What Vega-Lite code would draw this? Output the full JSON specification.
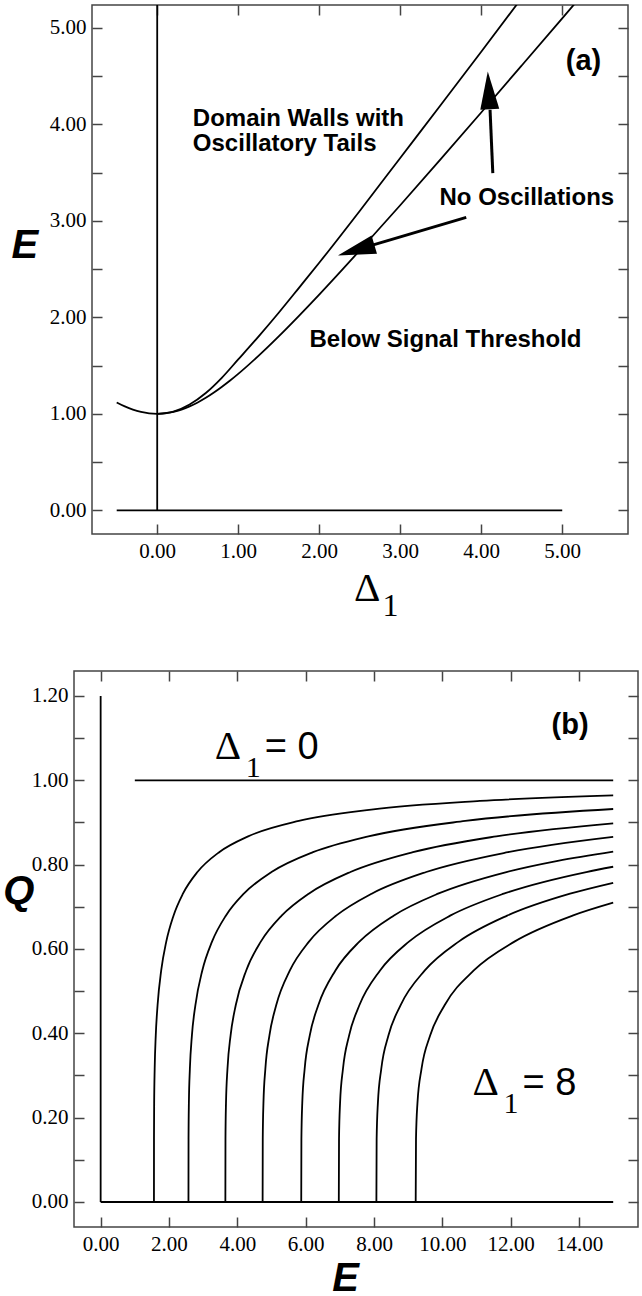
{
  "$schema": "https://vega.github.io/schema/vega-lite/v6.json",
  "padding": {"left": 0, "top": 3, "right": 0, "bottom": 0},
  "background": "white",
  "config": {
    "view": {"stroke": null},
    "axis": {
      "grid": false,
      "domain": false,
      "ticks": true,
      "tickSize": -10,
      "tickColor": "#444",
      "tickWidth": 1.5,
      "labelFont": "Liberation Serif",
      "labelFontSize": 21,
      "labelColor": "#000",
      "labelPadding": 16
    }
  },
  "datasets": {
    "aCurves": [
      {"c": "lower", "d": -0.5, "e": 1.118}, {"c": "lower", "d": -0.4, "e": 1.077},
      {"c": "lower", "d": -0.3, "e": 1.044}, {"c": "lower", "d": -0.2, "e": 1.020},
      {"c": "lower", "d": -0.1, "e": 1.005}, {"c": "lower", "d": 0, "e": 1.0},
      {"c": "lower", "d": 0.1, "e": 1.005}, {"c": "lower", "d": 0.2, "e": 1.020},
      {"c": "lower", "d": 0.3, "e": 1.044}, {"c": "lower", "d": 0.4, "e": 1.077},
      {"c": "lower", "d": 0.5, "e": 1.118}, {"c": "lower", "d": 0.6, "e": 1.166},
      {"c": "lower", "d": 0.7, "e": 1.221}, {"c": "lower", "d": 0.8, "e": 1.281},
      {"c": "lower", "d": 0.9, "e": 1.345}, {"c": "lower", "d": 1.0, "e": 1.414},
      {"c": "lower", "d": 1.25, "e": 1.601}, {"c": "lower", "d": 1.5, "e": 1.803},
      {"c": "lower", "d": 1.75, "e": 2.016}, {"c": "lower", "d": 2.0, "e": 2.236},
      {"c": "lower", "d": 2.5, "e": 2.693}, {"c": "lower", "d": 3.0, "e": 3.162},
      {"c": "lower", "d": 3.5, "e": 3.640}, {"c": "lower", "d": 4.0, "e": 4.123},
      {"c": "lower", "d": 4.5, "e": 4.610}, {"c": "lower", "d": 5.0, "e": 5.099},
      {"c": "lower", "d": 5.5, "e": 5.590},
      {"c": "upper", "d": 0, "e": 1.0}, {"c": "upper", "d": 0.2, "e": 1.024},
      {"c": "upper", "d": 0.4, "e": 1.097}, {"c": "upper", "d": 0.6, "e": 1.216},
      {"c": "upper", "d": 0.8, "e": 1.376}, {"c": "upper", "d": 1.0, "e": 1.564},
      {"c": "upper", "d": 1.25, "e": 1.801}, {"c": "upper", "d": 1.5, "e": 2.048},
      {"c": "upper", "d": 1.75, "e": 2.306}, {"c": "upper", "d": 2.0, "e": 2.566},
      {"c": "upper", "d": 2.5, "e": 3.103}, {"c": "upper", "d": 3.0, "e": 3.652},
      {"c": "upper", "d": 3.5, "e": 4.200}, {"c": "upper", "d": 4.0, "e": 4.753},
      {"c": "upper", "d": 4.5, "e": 5.310}, {"c": "upper", "d": 5.0, "e": 5.869}
    ],
    "aRules": [
      {"d": -0.5, "d2": 5.0, "e": 0, "e2": 0},
      {"d": 0, "d2": 0, "e": 0, "e2": 5.237}
    ],
    "aArrows": [
      {"name": "up", "d": 4.143, "e": 3.495, "d2": 4.109, "e2": 4.152, "hd": 4.081, "he": 4.549},
      {"name": "left", "d": 3.815, "e": 3.036, "d2": 2.668, "e2": 2.751, "hd": 2.23, "he": 2.642}
    ],
    "aNotes": [
      {"t": "Domain Walls with", "d": 0.44, "e": 3.98},
      {"t": "Oscillatory Tails", "d": 0.44, "e": 3.727},
      {"t": "No Oscillations", "d": 3.485, "e": 3.168},
      {"t": "Below Signal Threshold", "d": 1.88, "e": 1.69}
    ],
    "bCurves": [
      {"k": 1, "E": 1.56, "Q": 0}, {"k": 1, "E": 1.561, "Q": 0.1495}, {"k": 1, "E": 1.566, "Q": 0.2339},
      {"k": 1, "E": 1.581, "Q": 0.3154}, {"k": 1, "E": 1.613, "Q": 0.3952}, {"k": 1, "E": 1.666, "Q": 0.4671},
      {"k": 1, "E": 1.772, "Q": 0.5491}, {"k": 1, "E": 1.920, "Q": 0.6174}, {"k": 1, "E": 2.132, "Q": 0.6790},
      {"k": 1, "E": 2.408, "Q": 0.7311}, {"k": 1, "E": 2.832, "Q": 0.7825}, {"k": 1, "E": 3.468, "Q": 0.8296},
      {"k": 1, "E": 4.316, "Q": 0.8671}, {"k": 1, "E": 5.80, "Q": 0.9036}, {"k": 1, "E": 7.92, "Q": 0.9306},
      {"k": 1, "E": 11.10, "Q": 0.9511}, {"k": 1, "E": 15, "Q": 0.9641},
      {"k": 2, "E": 2.57, "Q": 0}, {"k": 2, "E": 2.572, "Q": 0.1495}, {"k": 2, "E": 2.582, "Q": 0.2339},
      {"k": 2, "E": 2.611, "Q": 0.3154}, {"k": 2, "E": 2.671, "Q": 0.3952}, {"k": 2, "E": 2.773, "Q": 0.4671},
      {"k": 2, "E": 2.975, "Q": 0.5491}, {"k": 2, "E": 3.259, "Q": 0.6174}, {"k": 2, "E": 3.664, "Q": 0.6790},
      {"k": 2, "E": 4.19, "Q": 0.7311}, {"k": 2, "E": 5.0, "Q": 0.7825}, {"k": 2, "E": 6.215, "Q": 0.8296},
      {"k": 2, "E": 7.835, "Q": 0.8671}, {"k": 2, "E": 10.67, "Q": 0.9036}, {"k": 2, "E": 15, "Q": 0.9319},
      {"k": 3, "E": 3.65, "Q": 0}, {"k": 3, "E": 3.653, "Q": 0.1495}, {"k": 3, "E": 3.668, "Q": 0.2339},
      {"k": 3, "E": 3.711, "Q": 0.3154}, {"k": 3, "E": 3.803, "Q": 0.3952}, {"k": 3, "E": 3.955, "Q": 0.4671},
      {"k": 3, "E": 4.26, "Q": 0.5491}, {"k": 3, "E": 4.687, "Q": 0.6174}, {"k": 3, "E": 5.297, "Q": 0.6790},
      {"k": 3, "E": 6.09, "Q": 0.7311}, {"k": 3, "E": 7.31, "Q": 0.7825}, {"k": 3, "E": 9.14, "Q": 0.8296},
      {"k": 3, "E": 11.58, "Q": 0.8671}, {"k": 3, "E": 15, "Q": 0.8981},
      {"k": 4, "E": 4.74, "Q": 0}, {"k": 4, "E": 4.744, "Q": 0.1495}, {"k": 4, "E": 4.764, "Q": 0.2339},
      {"k": 4, "E": 4.82, "Q": 0.3154}, {"k": 4, "E": 4.94, "Q": 0.3952}, {"k": 4, "E": 5.139, "Q": 0.4671},
      {"k": 4, "E": 5.538, "Q": 0.5491}, {"k": 4, "E": 6.097, "Q": 0.6174}, {"k": 4, "E": 6.895, "Q": 0.6790},
      {"k": 4, "E": 7.932, "Q": 0.7311}, {"k": 4, "E": 9.528, "Q": 0.7825}, {"k": 4, "E": 11.922, "Q": 0.8296},
      {"k": 4, "E": 15, "Q": 0.8660},
      {"k": 5, "E": 5.87, "Q": 0}, {"k": 5, "E": 5.875, "Q": 0.1495}, {"k": 5, "E": 5.90, "Q": 0.2339},
      {"k": 5, "E": 5.97, "Q": 0.3154}, {"k": 5, "E": 6.12, "Q": 0.3952}, {"k": 5, "E": 6.371, "Q": 0.4671},
      {"k": 5, "E": 6.871, "Q": 0.5491}, {"k": 5, "E": 7.572, "Q": 0.6174}, {"k": 5, "E": 8.573, "Q": 0.6790},
      {"k": 5, "E": 9.874, "Q": 0.7311}, {"k": 5, "E": 11.876, "Q": 0.7825}, {"k": 5, "E": 13.378, "Q": 0.8091},
      {"k": 5, "E": 15, "Q": 0.8311},
      {"k": 6, "E": 6.97, "Q": 0}, {"k": 6, "E": 6.976, "Q": 0.1495}, {"k": 6, "E": 7.006, "Q": 0.2339},
      {"k": 6, "E": 7.091, "Q": 0.3154}, {"k": 6, "E": 7.272, "Q": 0.3952}, {"k": 6, "E": 7.574, "Q": 0.4671},
      {"k": 6, "E": 8.177, "Q": 0.5491}, {"k": 6, "E": 9.022, "Q": 0.6174}, {"k": 6, "E": 10.229, "Q": 0.6790},
      {"k": 6, "E": 11.798, "Q": 0.7311}, {"k": 6, "E": 14.212, "Q": 0.7825}, {"k": 6, "E": 15, "Q": 0.7950},
      {"k": 7, "E": 8.07, "Q": 0}, {"k": 7, "E": 8.077, "Q": 0.1495}, {"k": 7, "E": 8.113, "Q": 0.2339},
      {"k": 7, "E": 8.212, "Q": 0.3154}, {"k": 7, "E": 8.424, "Q": 0.3952}, {"k": 7, "E": 8.779, "Q": 0.4671},
      {"k": 7, "E": 9.487, "Q": 0.5491}, {"k": 7, "E": 10.479, "Q": 0.6174}, {"k": 7, "E": 11.896, "Q": 0.6790},
      {"k": 7, "E": 13.738, "Q": 0.7311}, {"k": 7, "E": 15, "Q": 0.7570},
      {"k": 8, "E": 9.22, "Q": 0}, {"k": 8, "E": 9.229, "Q": 0.1495}, {"k": 8, "E": 9.271, "Q": 0.2339},
      {"k": 8, "E": 9.39, "Q": 0.3154}, {"k": 8, "E": 9.645, "Q": 0.3952}, {"k": 8, "E": 10.07, "Q": 0.4671},
      {"k": 8, "E": 10.92, "Q": 0.5491}, {"k": 8, "E": 12.11, "Q": 0.6174}, {"k": 8, "E": 13.81, "Q": 0.6790},
      {"k": 8, "E": 15, "Q": 0.7097}
    ],
    "bRules": [
      {"E": 0, "E2": 0, "Q": 0, "Q2": 1.2},
      {"E": 0, "E2": 15, "Q": 0, "Q2": 0},
      {"E": 1, "E2": 15, "Q": 1, "Q2": 1}
    ],
    "bDelta": [
      {"E": 3.336, "Q": 1.05, "eq": "= 0"},
      {"E": 10.88, "Q": 0.254, "eq": "= 8"}
    ]
  },
  "spacing": 45,
  "vconcat": [
    {
      "spacing": 0,
      "hconcat": [
        {
          "width": 10, "height": 10,
          "view": {"stroke": null},
          "data": {"values": [{"s": 1}]},
          "mark": {"type": "point", "opacity": 0, "size": 1},
          "encoding": {}
        },
        {
          "width": 536, "height": 529,
          "view": {"stroke": "#444", "strokeWidth": 1.5},
          "resolve": {"scale": {"x": "independent", "y": "independent"}, "axis": {"x": "independent", "y": "independent"}},
          "layer": [
            {
              "data": {"name": "aRules"},
              "mark": {"type": "rule", "color": "#000", "strokeWidth": 1.8, "clip": true},
              "encoding": {
                "x": {"field": "d", "type": "quantitative",
                      "scale": {"domain": [-0.805, 5.812], "nice": false, "zero": false},
                      "axis": {"orient": "bottom", "title": null, "values": [0, 1, 2, 3, 4, 5], "format": ".2f"}},
                "x2": {"field": "d2"},
                "y": {"field": "e", "type": "quantitative",
                      "scale": {"domain": [-0.245, 5.237], "nice": false, "zero": false},
                      "axis": {"orient": "left", "title": null,
                               "values": [0, 0.5, 1, 1.5, 2, 2.5, 3, 3.5, 4, 4.5, 5],
                               "labelExpr": "datum.value % 1 === 0 ? format(datum.value, '.2f') : ''"}},
                "y2": {"field": "e2"}
              }
            },
            {
              "data": {"name": "aCurves"},
              "mark": {"type": "line", "color": "#000", "strokeWidth": 1.8, "interpolate": "monotone", "clip": true},
              "encoding": {
                "x": {"field": "d", "type": "quantitative",
                      "scale": {"domain": [-0.805, 5.812], "nice": false, "zero": false},
                      "axis": {"orient": "top", "title": null, "labels": false, "ticks": true, "values": [0, 1, 2, 3, 4, 5]}},
                "y": {"field": "e", "type": "quantitative",
                      "scale": {"domain": [-0.245, 5.237], "nice": false, "zero": false},
                      "axis": {"orient": "right", "title": null, "labels": false, "ticks": true,
                               "values": [0, 0.5, 1, 1.5, 2, 2.5, 3, 3.5, 4, 4.5, 5]}},
                "detail": {"field": "c"}
              }
            },
            {
              "data": {"name": "aArrows"},
              "mark": {"type": "rule", "color": "#000", "strokeWidth": 3},
              "encoding": {
                "x": {"field": "d", "type": "quantitative", "scale": {"domain": [-0.805, 5.812], "nice": false, "zero": false}, "axis": null},
                "x2": {"field": "d2"},
                "y": {"field": "e", "type": "quantitative", "scale": {"domain": [-0.245, 5.237], "nice": false, "zero": false}, "axis": null},
                "y2": {"field": "e2"}
              }
            },
            {
              "data": {"name": "aArrows"},
              "transform": [{"filter": "datum.name === 'up'"}],
              "mark": {"type": "point", "shape": "M0,0L0.5,2L-0.5,2Z", "size": 1444, "filled": true,
                       "opacity": 1, "color": "#000", "strokeWidth": 0, "angle": -3},
              "encoding": {
                "x": {"field": "hd", "type": "quantitative", "scale": {"domain": [-0.805, 5.812], "nice": false, "zero": false}, "axis": null},
                "y": {"field": "he", "type": "quantitative", "scale": {"domain": [-0.245, 5.237], "nice": false, "zero": false}, "axis": null}
              }
            },
            {
              "data": {"name": "aArrows"},
              "transform": [{"filter": "datum.name === 'left'"}],
              "mark": {"type": "point", "shape": "M0,0L0.5,2L-0.5,2Z", "size": 1444, "filled": true,
                       "opacity": 1, "color": "#000", "strokeWidth": 0, "angle": 253.5},
              "encoding": {
                "x": {"field": "hd", "type": "quantitative", "scale": {"domain": [-0.805, 5.812], "nice": false, "zero": false}, "axis": null},
                "y": {"field": "he", "type": "quantitative", "scale": {"domain": [-0.245, 5.237], "nice": false, "zero": false}, "axis": null}
              }
            },
            {
              "data": {"name": "aNotes"},
              "mark": {"type": "text", "font": "Liberation Sans", "fontWeight": "bold", "fontSize": 24,
                       "align": "left", "baseline": "alphabetic", "color": "#000"},
              "encoding": {
                "x": {"field": "d", "type": "quantitative", "scale": {"domain": [-0.805, 5.812], "nice": false, "zero": false}, "axis": null},
                "y": {"field": "e", "type": "quantitative", "scale": {"domain": [-0.245, 5.237], "nice": false, "zero": false}, "axis": null},
                "text": {"field": "t"}
              }
            },
            {
              "data": {"values": [{"t": "(a)", "d": 5.263, "e": 4.567}]},
              "mark": {"type": "text", "font": "Liberation Sans", "fontWeight": "bold", "fontSize": 29,
                       "align": "center", "baseline": "alphabetic", "color": "#000"},
              "encoding": {
                "x": {"field": "d", "type": "quantitative", "scale": {"domain": [-0.805, 5.812], "nice": false, "zero": false}, "axis": null},
                "y": {"field": "e", "type": "quantitative", "scale": {"domain": [-0.245, 5.237], "nice": false, "zero": false}, "axis": null},
                "text": {"field": "t"}
              }
            },
            {
              "data": {"values": [{"t": "E", "d": -1.80, "e": 2.62}]},
              "mark": {"type": "text", "font": "Liberation Sans", "fontWeight": "bold", "fontStyle": "italic", "fontSize": 40,
                       "align": "left", "baseline": "alphabetic", "color": "#000"},
              "encoding": {
                "x": {"field": "d", "type": "quantitative", "scale": {"domain": [-0.805, 5.812], "nice": false, "zero": false}, "axis": null},
                "y": {"field": "e", "type": "quantitative", "scale": {"domain": [-0.245, 5.237], "nice": false, "zero": false}, "axis": null},
                "text": {"field": "t"}
              }
            },
            {
              "data": {"values": [{"d": 2.43, "e": -0.943}]},
              "mark": {"type": "text", "text": "Δ", "font": "Liberation Serif", "fontSize": 41,
                       "align": "left", "baseline": "alphabetic", "color": "#000"},
              "encoding": {
                "x": {"field": "d", "type": "quantitative", "scale": {"domain": [-0.805, 5.812], "nice": false, "zero": false}, "axis": null},
                "y": {"field": "e", "type": "quantitative", "scale": {"domain": [-0.245, 5.237], "nice": false, "zero": false}, "axis": null}
              }
            },
            {
              "data": {"values": [{"d": 2.43, "e": -0.943}]},
              "mark": {"type": "text", "text": "1", "font": "Liberation Serif", "fontSize": 32, "dx": 28.5, "dy": 15,
                       "align": "left", "baseline": "alphabetic", "color": "#000"},
              "encoding": {
                "x": {"field": "d", "type": "quantitative", "scale": {"domain": [-0.805, 5.812], "nice": false, "zero": false}, "axis": null},
                "y": {"field": "e", "type": "quantitative", "scale": {"domain": [-0.245, 5.237], "nice": false, "zero": false}, "axis": null}
              }
            }
          ]
        }
      ]
    },
    {
      "spacing": 0,
      "hconcat": [
        {
          "width": 2, "height": 10,
          "view": {"stroke": null},
          "data": {"values": [{"s": 1}]},
          "mark": {"type": "point", "opacity": 0, "size": 1},
          "encoding": {}
        },
        {
          "width": 564, "height": 556,
          "view": {"stroke": "#444", "strokeWidth": 1.5},
          "resolve": {"scale": {"x": "independent", "y": "independent"}, "axis": {"x": "independent", "y": "independent"}},
          "layer": [
            {
              "data": {"name": "bRules"},
              "mark": {"type": "rule", "color": "#000", "strokeWidth": 1.8},
              "encoding": {
                "x": {"field": "E", "type": "quantitative",
                      "scale": {"domain": [-0.78, 15.726], "nice": false, "zero": false},
                      "axis": {"orient": "bottom", "title": null, "values": [0, 2, 4, 6, 8, 10, 12, 14], "format": ".2f"}},
                "x2": {"field": "E2"},
                "y": {"field": "Q", "type": "quantitative",
                      "scale": {"domain": [-0.0593, 1.2592], "nice": false, "zero": false},
                      "axis": {"orient": "left", "title": null,
                               "values": [0, 0.1, 0.2, 0.3, 0.4, 0.5, 0.6, 0.7, 0.8, 0.9, 1, 1.1, 1.2],
                               "labelExpr": "round(datum.value * 10) % 2 === 0 ? format(datum.value, '.2f') : ''"}},
                "y2": {"field": "Q2"}
              }
            },
            {
              "data": {"name": "bCurves"},
              "mark": {"type": "line", "color": "#000", "strokeWidth": 1.8, "interpolate": "monotone", "clip": true},
              "encoding": {
                "x": {"field": "E", "type": "quantitative",
                      "scale": {"domain": [-0.78, 15.726], "nice": false, "zero": false},
                      "axis": {"orient": "top", "title": null, "labels": false, "ticks": true, "values": [0, 2, 4, 6, 8, 10, 12, 14]}},
                "y": {"field": "Q", "type": "quantitative",
                      "scale": {"domain": [-0.0593, 1.2592], "nice": false, "zero": false},
                      "axis": {"orient": "right", "title": null, "labels": false, "ticks": true,
                               "values": [0, 0.1, 0.2, 0.3, 0.4, 0.5, 0.6, 0.7, 0.8, 0.9, 1, 1.1, 1.2]}},
                "detail": {"field": "k"}
              }
            },
            {
              "data": {"name": "bDelta"},
              "mark": {"type": "text", "text": "Δ", "font": "Liberation Serif", "fontSize": 41,
                       "align": "left", "baseline": "alphabetic", "color": "#000"},
              "encoding": {
                "x": {"field": "E", "type": "quantitative", "scale": {"domain": [-0.78, 15.726], "nice": false, "zero": false}, "axis": null},
                "y": {"field": "Q", "type": "quantitative", "scale": {"domain": [-0.0593, 1.2592], "nice": false, "zero": false}, "axis": null}
              }
            },
            {
              "data": {"name": "bDelta"},
              "mark": {"type": "text", "text": "1", "font": "Liberation Serif", "fontSize": 30, "dx": 31, "dy": 18,
                       "align": "left", "baseline": "alphabetic", "color": "#000"},
              "encoding": {
                "x": {"field": "E", "type": "quantitative", "scale": {"domain": [-0.78, 15.726], "nice": false, "zero": false}, "axis": null},
                "y": {"field": "Q", "type": "quantitative", "scale": {"domain": [-0.0593, 1.2592], "nice": false, "zero": false}, "axis": null}
              }
            },
            {
              "data": {"name": "bDelta"},
              "mark": {"type": "text", "font": "Liberation Sans", "fontSize": 38, "dx": 50,
                       "align": "left", "baseline": "alphabetic", "color": "#000"},
              "encoding": {
                "x": {"field": "E", "type": "quantitative", "scale": {"domain": [-0.78, 15.726], "nice": false, "zero": false}, "axis": null},
                "y": {"field": "Q", "type": "quantitative", "scale": {"domain": [-0.0593, 1.2592], "nice": false, "zero": false}, "axis": null},
                "text": {"field": "eq"}
              }
            },
            {
              "data": {"values": [{"t": "(b)", "E": 13.74, "Q": 1.109}]},
              "mark": {"type": "text", "font": "Liberation Sans", "fontWeight": "bold", "fontSize": 29,
                       "align": "center", "baseline": "alphabetic", "color": "#000"},
              "encoding": {
                "x": {"field": "E", "type": "quantitative", "scale": {"domain": [-0.78, 15.726], "nice": false, "zero": false}, "axis": null},
                "y": {"field": "Q", "type": "quantitative", "scale": {"domain": [-0.0593, 1.2592], "nice": false, "zero": false}, "axis": null},
                "text": {"field": "t"}
              }
            },
            {
              "data": {"values": [{"t": "Q", "E": -2.848, "Q": 0.706}, {"t": "E", "E": 6.78, "Q": -0.212}]},
              "mark": {"type": "text", "font": "Liberation Sans", "fontWeight": "bold", "fontStyle": "italic", "fontSize": 40,
                       "align": "left", "baseline": "alphabetic", "color": "#000"},
              "encoding": {
                "x": {"field": "E", "type": "quantitative", "scale": {"domain": [-0.78, 15.726], "nice": false, "zero": false}, "axis": null},
                "y": {"field": "Q", "type": "quantitative", "scale": {"domain": [-0.0593, 1.2592], "nice": false, "zero": false}, "axis": null},
                "text": {"field": "t"}
              }
            }
          ]
        }
      ]
    }
  ]
}
